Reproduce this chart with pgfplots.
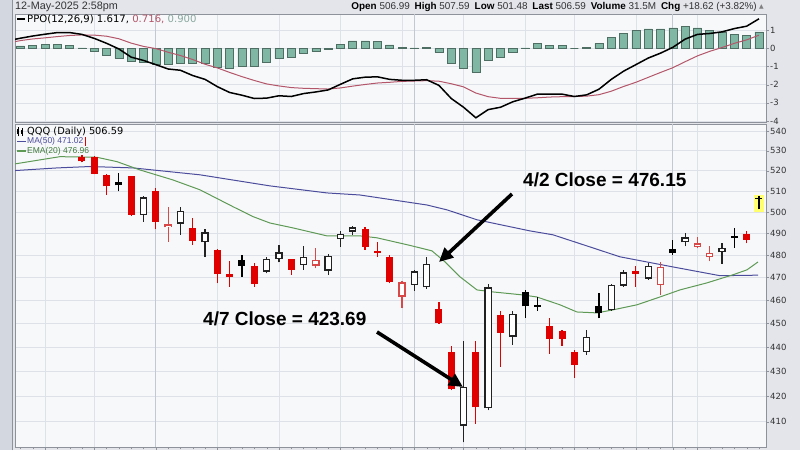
\documentclass[border=0pt]{standalone}
\usepackage{pgfplots}
\pgfplotsset{compat=1.18}
\usepackage{pgfplotstable}
\usepackage{fontspec}
\setmainfont{Liberation Sans}
\newfontfamily\dvs{DejaVu Sans}
\usetikzlibrary{arrows.meta}

\definecolor{bgout}{HTML}{E3E5EB}
\definecolor{leftc}{HTML}{D3D7DF}
\definecolor{panel}{HTML}{F7F8FA}
\definecolor{gridc}{HTML}{DEE1E7}
\definecolor{gridm}{HTML}{C4C8D0}
\definecolor{axisc}{HTML}{8E939B}
\definecolor{labc}{HTML}{333333}
\definecolor{cred}{HTML}{E00000}
\definecolor{cpink}{HTML}{D84848}
\definecolor{cdark}{HTML}{222222}
\definecolor{ma50}{HTML}{4B4C9C}
\definecolor{ema20}{HTML}{5E9A55}
\definecolor{emat}{HTML}{3F7A3A}
\definecolor{sigc}{HTML}{B4566A}
\definecolor{histf}{HTML}{80B6A4}
\definecolor{histe}{HTML}{4E6E64}
\definecolor{histt}{HTML}{8AA8A0}
\definecolor{hly}{HTML}{FFFF70}

% day index, open, high, low, close, type (1 red filled, 2 black filled, 3 hollow black, 4 hollow red)
\pgfplotstableread{
x o h l c t
1 527.0 527.6 524.1 524.6 1
2 526.7 527.2 518.2 518.5 1
3 518.0 518.3 508.2 512.3 1
4 514.4 518.8 509.9 512.9 2
5 517.2 517.6 498.4 498.7 1
6 498.7 507.5 495.6 507.1 3
7 510.2 511.5 492.0 495.6 1
8 492.9 502.4 486.2 494.3 4
9 494.5 502.4 489.4 500.6 3
10 492.5 497.2 484.7 486.7 1
11 485.9 492.0 479.1 490.6 3
12 482.2 482.8 467.5 471.5 1
13 471.5 477.6 466.0 470.4 1
14 477.9 480.2 470.4 475.3 2
15 475.3 476.3 466.0 467.1 1
16 472.6 479.4 471.8 478.5 3
17 478.2 484.7 476.8 481.3 3
18 478.2 478.5 471.2 473.4 1
19 475.6 484.3 473.4 479.4 3
20 475.2 483.3 474.2 477.9 4
21 473.1 480.5 471.2 479.7 3
22 487.4 491.2 484.0 490.0 3
23 490.8 493.5 489.4 492.9 3
24 492.0 492.9 482.5 484.0 1
25 482.0 485.9 479.4 481.0 1
26 479.4 480.2 467.5 468.2 1
27 461.6 468.5 456.6 467.9 4
28 466.7 473.2 464.1 472.8 3
29 465.6 479.4 465.1 476.15 3
30 456.1 459.3 449.8 450.2 1
31 437.8 440.4 422.4 422.7 1
32 408.4 442.6 402.0 423.69 3
33 438.0 442.6 409.2 415.6 1
34 415.3 467.1 414.5 465.7 3
35 453.6 455.2 431.8 446.0 1
36 444.4 455.2 440.9 454.1 3
37 463.7 464.5 452.5 457.3 2
38 457.8 461.5 455.5 457.2 2
39 448.7 452.2 437.2 443.6 1
40 446.8 447.1 440.6 443.5 1
41 438.0 438.9 427.5 432.7 1
42 438.0 447.3 436.8 444.2 3
43 457.6 463.0 452.2 454.4 2
44 455.8 467.0 455.5 466.7 3
45 466.4 473.3 466.0 472.3 3
46 473.1 475.0 466.0 471.6 1
47 469.4 476.3 469.0 475.3 3
48 466.7 476.8 462.3 474.9 4
49 482.8 487.0 480.2 481.0 2
50 485.9 490.4 484.2 488.2 3
51 484.0 488.5 483.3 485.5 4
52 479.1 484.3 477.3 481.0 4
53 481.3 485.5 476.1 483.3 3
54 488.6 492.5 483.5 487.9 2
55 489.9 491.0 485.5 487.0 1
56 506.99 507.59 501.48 506.59 2
}\candles

\pgfplotstableread{
x ppo sig hist
-4.44 0.49 0.36 nan
-4 0.55 0.42 0.13
-3 0.67 0.51 0.16
-2 0.77 0.57 0.22
-1 0.86 0.64 0.22
0 0.86 0.70 0.14
1 0.76 0.73 0.02
2 0.54 0.72 -0.18
3 0.27 0.66 -0.41
4 -0.04 0.52 -0.54
5 -0.49 0.28 -0.74
6 -0.67 0.10 -0.77
7 -0.90 -0.02 -0.90
8 -1.14 -0.22 -0.90
9 -1.21 -0.40 -0.81
10 -1.50 -0.62 -0.85
11 -1.71 -0.88 -0.81
12 -2.11 -1.08 -1.05
13 -2.43 -1.33 -1.08
14 -2.58 -1.56 -0.99
15 -2.76 -1.77 -0.99
16 -2.74 -1.96 -0.77
17 -2.61 -2.07 -0.54
18 -2.65 -2.16 -0.49
19 -2.49 -2.20 -0.29
20 -2.40 -2.22 -0.18
21 -2.29 -2.24 -0.04
22 -1.98 -2.18 0.22
23 -1.68 -2.08 0.40
24 -1.59 -1.99 0.40
25 -1.57 -1.91 0.36
26 -1.71 -1.87 0.18
27 -1.76 -1.82 0.04
28 -1.76 -1.80 0.02
29 -1.73 -1.78 0.05
30 -2.04 -1.81 -0.23
31 -2.76 -1.95 -0.81
32 -3.24 -2.12 -1.12
33 -3.82 -2.46 -1.30
34 -3.37 -2.66 -0.68
35 -3.24 -2.75 -0.49
36 -2.94 -2.76 -0.22
37 -2.74 -2.75 0.02
38 -2.52 -2.72 0.25
39 -2.52 -2.68 0.16
40 -2.52 -2.66 0.16
41 -2.65 -2.65 0.00
42 -2.56 -2.63 0.03
43 -2.25 -2.55 0.27
44 -1.71 -2.36 0.59
45 -1.26 -2.10 0.81
46 -0.90 -1.87 0.97
47 -0.54 -1.60 1.06
48 -0.27 -1.33 1.06
49 0.05 -1.07 1.12
50 0.50 -0.74 1.21
51 0.76 -0.42 1.12
52 0.81 -0.17 0.97
53 0.90 0.04 0.90
54 1.08 0.27 0.77
55 1.21 0.46 0.70
56 1.617 0.716 0.90
}\ppotab

\pgfplotsset{
  wick/.style n args={2}{only marks, mark=*, mark size=0pt,
    mark options={draw=none, fill=none}, forget plot,
    restrict expr to domain={\thisrow{t}}{#1:#1},
    error bars/.cd, y dir=plus, y explicit, error mark=none,
    error bar style={draw=#2, line width=1.2pt, line cap=butt}},
  body/.style n args={3}{only marks, mark=*, mark size=0pt,
    mark options={draw=none, fill=none}, forget plot,
    restrict expr to domain={\thisrow{t}}{#1:#1},
    error bars/.cd, y dir=plus, y explicit, error mark=none,
    error bar style={draw=#2, line width=#3, line cap=butt}},
}

\begin{document}
\begin{tikzpicture}[x=1pt,y=1pt]
\useasboundingbox (0,0) rectangle (800,450);
\fill[bgout] (0,0) rectangle (800,450);
\fill[leftc] (0,0) rectangle (12,450);
\draw[axisc, line width=0.8pt] (12.5,0) -- (12.5,450);

% ---------------- PPO panel ----------------
\begin{axis}[
  at={(15pt,328pt)}, anchor=south west, scale only axis,
  width=751pt, height=108pt,
  xmin=-4.44, xmax=56.57, ymin=-4.05, ymax=1.88,
  axis background/.style={fill=panel},
  axis line style={draw=axisc},
  xtick={-2,2,12,17,22,27,32,37,41,46,51}, xticklabels={},
  extra x ticks={7,28,49}, extra x tick labels={},
  extra x tick style={major grid style={draw=gridm, line width=0.8pt}},
  ytick={-4,-3,-2,-1,0,1}, yticklabels={-4,-3,-2,-1,0,1},
  xmajorgrids, ymajorgrids,
  major grid style={draw=gridc, line width=0.7pt},
  ytick pos=right, yticklabel pos=right,
  tick align=outside, major tick length=3pt,
  x tick style={draw=none},
  y tick style={draw=axisc},
  yticklabel style={font=\dvs\fontsize{8.5}{9}\selectfont, text=labc, inner sep=1pt},
]
\addplot[ybar, bar width=8pt, fill=histf, draw=histe, line width=0.6pt] table[x=x, y=hist] {\ppotab};
\addplot[sigc, line width=1pt] table[x=x, y=sig] {\ppotab};
\addplot[black, line width=1.5pt] table[x=x, y=ppo] {\ppotab};
\end{axis}

% ---------------- Price panel ----------------
\begin{axis}[
  at={(15pt,3pt)}, anchor=south west, scale only axis,
  width=751pt, height=323pt,
  xmin=-4.44, xmax=56.57, ymode=log, ymin=400.3, ymax=543.6,
  axis background/.style={fill=panel},
  axis line style={draw=axisc},
  xtick={-2,2,12,17,22,27,32,37,41,46,51}, xticklabels={},
  extra x ticks={7,28,49}, extra x tick labels={},
  extra x tick style={major grid style={draw=gridm, line width=0.8pt}},
  minor xtick={-4,-3,...,56},
  ytick={410,420,430,440,450,460,470,480,490,500,510,520,530,540},
  yticklabels={410,420,430,440,450,460,470,480,490,500,510,520,530,540},
  yminorticks=false,
  xmajorgrids, ymajorgrids,
  major grid style={draw=gridc, line width=0.7pt},
  ytick pos=right, yticklabel pos=right, xtick pos=bottom,
  tick align=outside, major tick length=3pt, minor tick length=2.5pt,
  tick style={draw=axisc},
  yticklabel style={font=\dvs\fontsize{8.5}{9}\selectfont, text=labc, inner sep=1pt},
]
\fill[hly] (axis cs:55.6,508.3) rectangle (axis cs:56.42,500.2);
\addplot[ma50, line width=1pt] coordinates {(-4.44,520.1) (-1,521.4) (1.65,522.1) (5.14,521.4) (10.59,518.0) (16.27,512.6) (20.9,509.2) (23.58,508.2) (29.03,503.4) (30.65,501.1) (33.09,496.4) (37.39,491.2) (39.26,489.4) (42.0,484.3) (44.7,479.3) (48.93,474.8) (52.83,470.8) (55.92,471.02)};
\addplot[ema20, line width=1pt] coordinates {(-4.44,523.4) (-0.79,527.0) (2.22,526.7) (3.84,524.5) (5.71,520.4) (8.39,515.5) (10.59,510.7) (13.27,502.6) (14.89,497.9) (16.27,494.9) (18.14,492.6) (20.9,488.9) (23.58,488.9) (24.96,488.0) (27.65,484.5) (29.43,482.0) (30.49,477.0) (31.71,470.3) (33.09,464.5) (34.39,463.6) (36.82,462.3) (37.96,461.4) (39.83,458.0) (41.21,454.9) (42.84,454.5) (44.14,455.8) (46.09,458.0) (47.95,461.4) (49.58,464.5) (51.77,467.6) (53.88,471.2) (55.02,473.4) (55.92,476.96)};
% wicks
\addplot[wick={1}{cred}] table[x=x, y=l, y error expr=\thisrow{h}-\thisrow{l}] {\candles};
\addplot[wick={2}{black}] table[x=x, y=l, y error expr=\thisrow{h}-\thisrow{l}] {\candles};
\addplot[wick={3}{cdark}] table[x=x, y=l, y error expr=\thisrow{h}-\thisrow{l}] {\candles};
\addplot[wick={4}{cpink}] table[x=x, y=l, y error expr=\thisrow{h}-\thisrow{l}] {\candles};
% bodies
\addplot[body={1}{cred}{7pt}] table[x=x, y expr={min(\thisrow{o},\thisrow{c})}, y error expr={abs(\thisrow{c}-\thisrow{o})}] {\candles};
\addplot[body={2}{black}{7pt}] table[x=x, y expr={min(\thisrow{o},\thisrow{c})}, y error expr={abs(\thisrow{c}-\thisrow{o})}] {\candles};
\addplot[body={3}{cdark}{7.4pt}] table[x=x, y expr={min(\thisrow{o},\thisrow{c})}, y error expr={abs(\thisrow{c}-\thisrow{o})}] {\candles};
\addplot[body={4}{cpink}{7.4pt}] table[x=x, y expr={min(\thisrow{o},\thisrow{c})}, y error expr={abs(\thisrow{c}-\thisrow{o})}] {\candles};
\addplot[body={3}{white}{4.8pt}] table[x=x, y expr={min(\thisrow{o},\thisrow{c})*1.0013}, y error expr={max(max(\thisrow{o},\thisrow{c})*0.9987-min(\thisrow{o},\thisrow{c})*1.0013,0)}] {\candles};
\addplot[body={4}{white}{4.8pt}] table[x=x, y expr={min(\thisrow{o},\thisrow{c})*1.0013}, y error expr={max(max(\thisrow{o},\thisrow{c})*0.9987-min(\thisrow{o},\thisrow{c})*1.0013,0)}] {\candles};
\end{axis}

% ---------------- header ----------------
\node[anchor=west, inner sep=0pt, text=labc, font=\fontsize{10.8}{11}\selectfont] at (15,443) {12-May-2025 2:58pm};
\node[anchor=east, inner sep=0pt, text=labc, font=\fontsize{9.9}{10}\selectfont] at (757,443)
  {\textbf{\color{black}Open} 506.99\enspace \textbf{\color{black}High} 507.59\enspace \textbf{\color{black}Low} 501.48\enspace \textbf{\color{black}Last} 506.59\enspace \textbf{\color{black}Volume} 31.5M\enspace \textbf{\color{black}Chg} +18.62 (+3.82\%)};
\node[anchor=west, inner sep=0pt, text=gray, font=\dvs\fontsize{6}{6}\selectfont] at (759,443) {▲};

% ---------------- PPO legend ----------------
\draw[black, line width=1.4pt] (17,431) -- (25,431);
\node[anchor=west, inner sep=0pt, font=\dvs\fontsize{10.1}{11}\selectfont] at (27,431)
  {PPO(12,26,9) 1.617, \textcolor{sigc}{0.716,} \textcolor{histt}{0.900}};

% ---------------- price legend ----------------
\draw[black, line width=0.6pt] (18,313.5) -- (18,322.5);
\fill[black] (16.8,315.5) rectangle (19.2,320.5);
\draw[black, line width=0.6pt] (22,314) -- (22,322);
\fill[black] (20.8,316) rectangle (23.2,320);
\node[anchor=west, inner sep=0pt, font=\dvs\fontsize{9.8}{10}\selectfont] at (27,318) {QQQ (Daily) 506.59};
\draw[ma50, line width=1.2pt] (17,308.5) -- (26,308.5);
\node[anchor=west, inner sep=0pt, text=ma50, font=\fontsize{8.5}{9}\selectfont] at (27,308.5) {MA(50) 471.02};
\fill[cred] (84.5,304) rectangle (86.2,313);
\draw[ema20, line width=1.2pt] (17,299) -- (26,299);
\node[anchor=west, inner sep=0pt, text=emat, font=\fontsize{8.5}{9}\selectfont] at (27,299) {EMA(20) 476.96};

% ---------------- annotations ----------------
\node[anchor=west, inner sep=0pt, font=\bfseries\fontsize{19}{21}\selectfont] at (523,270) {4/2 Close = 476.15};
\node[anchor=west, inner sep=0pt, font=\bfseries\fontsize{19}{21}\selectfont] at (203,131) {4/7 Close = 423.69};
\draw[black, line width=3.6pt, -{Triangle[length=14pt,width=13pt]}] (512,256) -- (439,188);
\draw[black, line width=3.6pt, -{Triangle[length=14pt,width=13pt]}] (377,118) -- (463,63);
\end{tikzpicture}
\end{document}
